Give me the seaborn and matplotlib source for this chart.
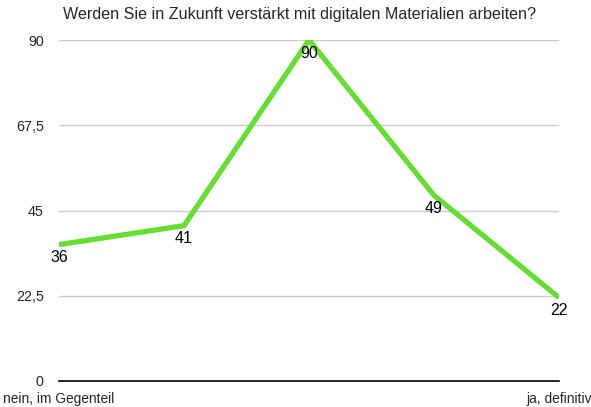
import pandas as pd
import matplotlib.pyplot as plt
import seaborn as sns

# data
stufen = [1, 2, 3, 4, 5]
antworten = [36, 41, 90, 49, 22]
x_labels = ["nein, im Gegenteil", "ja, definitiv"]
y_ticks = [0, 22.5, 45, 67.5, 90]
y_labels = ["0", "22,5", "45", "67,5", "90"]

df = pd.DataFrame({"stufe": stufen, "anzahl": antworten})

sns.set_style("white")
plt.rcParams['font.family'] = ['Liberation Sans', 'DejaVu Sans']

fig = plt.figure(figsize=(5.91, 4.07), dpi=100)
ax = fig.add_axes([59 / 591, 26 / 407, 500 / 591, 341 / 407])

sns.lineplot(data=df, x="stufe", y="anzahl", ax=ax, color="#66dd33",
             linewidth=3.8, solid_capstyle="butt", solid_joinstyle="miter", zorder=3)

for xv, yv in zip(df["stufe"], df["anzahl"]):
    ax.annotate(str(yv), (xv, yv), xytext=(0, -4), textcoords="offset points",
                ha="center", va="top", fontsize=11.5, color="black", zorder=4)

ax.set_xlim(stufen[0], stufen[-1])
ax.set_ylim(0, 90)
ax.set_yticks(y_ticks)
ax.set_yticklabels(y_labels, fontsize=10.3)
ax.set_xticks([stufen[0], stufen[-1]])
ax.set_xticklabels(x_labels, fontsize=9.9)
ax.tick_params(axis="both", length=0)
ax.tick_params(axis="y", pad=11)
ax.tick_params(axis="x", pad=8)
ax.set_xlabel("")
ax.set_ylabel("")

ax.grid(axis="y", color="#cccccc", linewidth=1)
ax.grid(axis="x", visible=False)
for s in ["top", "right", "left"]:
    ax.spines[s].set_visible(False)
ax.spines["bottom"].set_color("black")
ax.spines["bottom"].set_linewidth(1.2)
ax.spines["bottom"].set_zorder(5)

fig.text(300 / 591, 1 - 15 / 407, "Werden Sie in Zukunft verstärkt mit digitalen Materialien arbeiten?",
         ha="center", va="center", fontsize=11.6)

fig.savefig("out.png", dpi=100)
